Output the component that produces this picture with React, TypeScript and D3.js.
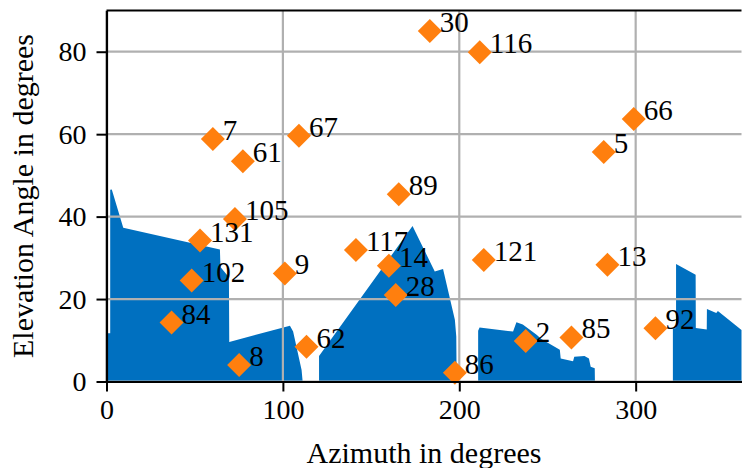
import * as d3 from "d3";
import React, { useEffect, useRef } from "react";

// visible satellites (PRN, azimuth, elevation)
const satIds = [30, 116, 66, 5, 7, 61, 67, 89, 105, 131, 117, 14, 121, 13, 9, 102, 28, 84, 92, 85, 2, 62, 8, 86];
const satAz = [183.3, 211.6, 298.9, 281.9, 60.3, 77.3, 109.1, 165.7, 72.8, 53.0, 141.4, 160.1, 213.9, 284.0, 101.1, 48.3, 164.0, 36.9, 311.2, 263.6, 237.7, 113.4, 75.2, 197.5];
const satEl = [85.0, 79.9, 63.7, 55.7, 58.8, 53.4, 59.6, 45.4, 39.4, 34.2, 31.9, 28.1, 29.5, 28.3, 26.2, 24.5, 21.0, 14.3, 12.9, 10.7, 9.8, 8.4, 4.0, 2.1];

// horizon mask (obstruction skyline)
const horizonAz = [
  0, 0, 2.1, 2.1, 3.0, 9.5, 64.3, 64.6, 69.4, 69.6, 104.0, 105.8, 110.6, 111.2,
  120.5, 120.5, 173.5, 186.1, 190.8, 197.5, 198.3, 198.5,
  210.7, 210.7, 211.5, 230.5, 232.4, 236.0, 244.0, 246.5, 257.0, 257.5, 264.5, 265.2, 271.0, 273.5, 274.5, 276.8, 276.9,
  321.1, 321.1, 322.9, 322.9, 334.0, 334.1, 340.3, 340.4, 345.7, 346.6, 360,
];
const horizonEl = [
  0, 11.7, 11.7, 46.5, 46.6, 37.3, 32.0, 27.8, 25.3, 9.6, 13.5, 12.1, 2.8, 0,
  0, 6.2, 37.7, 26.7, 27.3, 15.0, 10.9, 0,
  0, 12.3, 13.1, 12.1, 14.4, 13.8, 11.3, 10.3, 7.7, 5.6, 4.9, 6.0, 6.2, 5.6, 3.6, 3.2, 0,
  0, 12.8, 13.0, 28.5, 25.9, 13.0, 12.6, 17.6, 16.6, 17.1, 12.5,
];

const xTicks = [0, 100, 200, 300];
const yTicks = [0, 20, 40, 60, 80];

const W = 742;
const H = 468;
const FONT = "'Liberation Serif', 'DejaVu Serif', serif";

const SkyPlot = () => {
  const svgRef = useRef<SVGSVGElement>(null);

  useEffect(() => {
    const margin = { top: 10.5, right: 0.5, bottom: 86.5, left: 106.5 };
    const svg = d3.select(svgRef.current);
    svg.selectAll("*").remove();

    const x = d3.scaleLinear().domain([0, 360]).range([margin.left, W - margin.right]);
    const y = d3.scaleLinear().domain([0, 90]).range([H - margin.bottom, margin.top]);

    // skyline fill
    const horizon = horizonAz.map((a, i) => [a, horizonEl[i]]);
    const area = d3.area<number[]>()
      .x(d => x(d[0]))
      .y0(y(0))
      .y1(d => y(d[1]));
    svg.append("path")
      .datum(horizon)
      .attr("fill", "#0070c0")
      .attr("d", area);

    // grid
    const grid = svg.append("g").attr("stroke", "#b0b0b0").attr("stroke-width", 2.2);
    xTicks.forEach(t => {
      grid.append("line")
        .attr("x1", x(t)).attr("x2", x(t))
        .attr("y1", y(0)).attr("y2", y(90));
    });
    yTicks.forEach(t => {
      grid.append("line")
        .attr("x1", x(0)).attr("x2", x(360))
        .attr("y1", y(t)).attr("y2", y(t));
    });

    // satellites
    const sats = satIds.map((id, i) => ({ id, az: satAz[i], el: satEl[i] }));
    const r = 12;
    svg.append("g")
      .selectAll("path")
      .data(sats)
      .enter()
      .append("path")
      .attr("d", d => {
        const cx = x(d.az), cy = y(d.el);
        return `M${cx},${cy - r}L${cx + r},${cy}L${cx},${cy + r}L${cx - r},${cy}Z`;
      })
      .attr("fill", "#ff7f0e");

    svg.append("g")
      .selectAll("text")
      .data(sats)
      .enter()
      .append("text")
      .attr("x", d => x(d.az) + 10)
      .attr("y", d => y(d.el) + 1)
      .attr("font-family", FONT)
      .attr("font-size", 29)
      .attr("fill", "#000")
      .text(d => d.id);

    // axes
    const xAxis = svg.append("g")
      .attr("transform", `translate(0, ${y(0)})`)
      .call(d3.axisBottom(x).tickValues(xTicks).tickSize(10).tickPadding(8).tickSizeOuter(0));
    const yAxis = svg.append("g")
      .attr("transform", `translate(${x(0)}, 0)`)
      .call(d3.axisLeft(y).tickValues(yTicks).tickSize(10).tickPadding(10).tickSizeOuter(0));

    [xAxis, yAxis].forEach(g => {
      g.select(".domain").attr("stroke", "#000").attr("stroke-width", 2.2);
      g.selectAll(".tick line").attr("stroke", "#000").attr("stroke-width", 2);
      g.selectAll("text")
        .attr("fill", "#000")
        .attr("font-family", FONT)
        .attr("font-size", 28);
    });

    // top spine
    svg.append("line")
      .attr("x1", x(0)).attr("x2", x(360))
      .attr("y1", y(90)).attr("y2", y(90))
      .attr("stroke", "#000").attr("stroke-width", 2.2);

    // axis labels
    svg.append("text")
      .attr("x", (x(0) + x(360)) / 2)
      .attr("y", 463)
      .attr("text-anchor", "middle")
      .attr("font-family", FONT)
      .attr("font-size", 30)
      .text("Azimuth in degrees");

    svg.append("text")
      .attr("transform", `translate(33, ${(y(0) + y(90)) / 2}) rotate(-90)`)
      .attr("text-anchor", "middle")
      .attr("font-family", FONT)
      .attr("font-size", 30)
      .text("Elevation Angle in degrees");
  }, []);

  return (
    <svg
      ref={svgRef}
      width={W}
      height={H}
      style={{ position: "absolute", left: 0, top: 0, display: "block", background: "#fff" }}
    />
  );
};

export default function App() {
  return <SkyPlot />;
}
